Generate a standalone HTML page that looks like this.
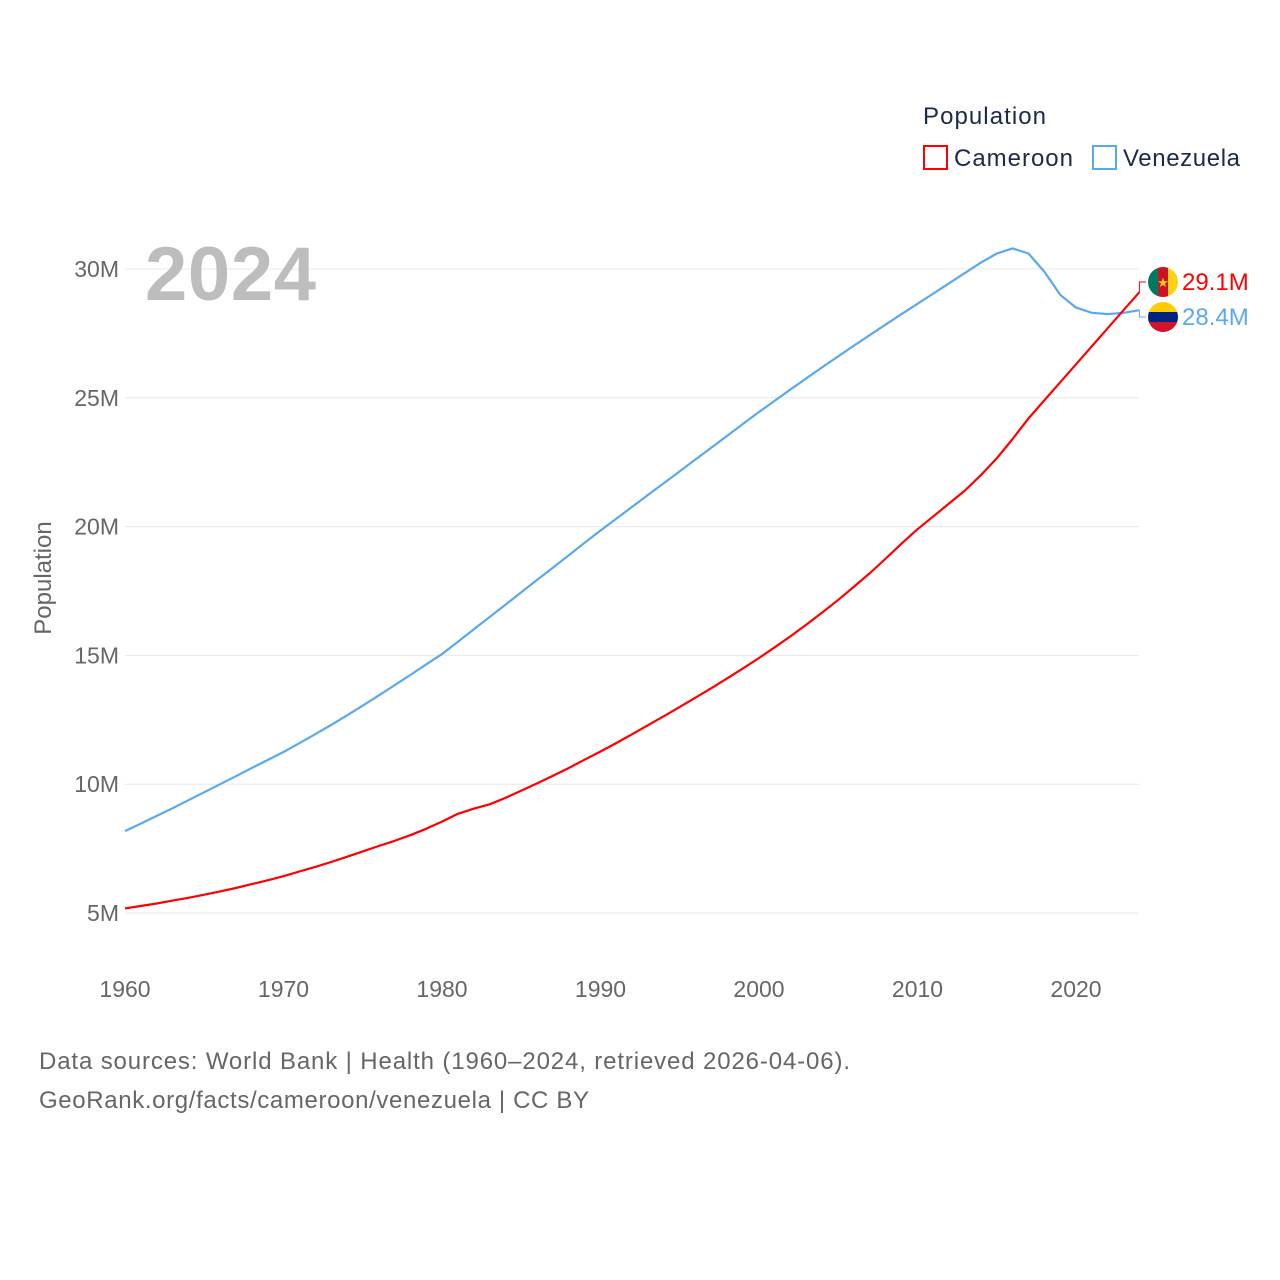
<!DOCTYPE html>
<html><head><meta charset="utf-8">
<style>
html,body{margin:0;padding:0;background:#fff;}
svg{display:block;font-family:"Liberation Sans",sans-serif;}
</style></head>
<body>
<svg id="chart" width="1280" height="1280" viewBox="0 0 1280 1280">
  <g id="grid"></g>
  <g id="yticks"></g>
  <g id="xticks"></g>
  <text x="145" y="300" font-size="76" font-weight="bold" fill="#bdbdbd" textLength="171">2024</text>
  <text x="0" y="0" transform="translate(51,578) rotate(-90)" text-anchor="middle" font-size="24" fill="#666">Population</text>
  <g id="series"></g>
  <g id="endlabels"></g>
  <g>
    <text x="923" y="124" font-size="24" fill="#1b2a4a" textLength="123">Population</text>
    <g>
      <rect x="924" y="146" width="23" height="23" fill="none" stroke="#ff0000" stroke-width="2"/>
      <text x="954" y="166" font-size="24" fill="#1b2a4a" textLength="119">Cameroon</text>
    </g>
    <g>
      <rect x="1093" y="146" width="23" height="23" fill="none" stroke="#5aa9ee" stroke-width="2"/>
      <text x="1123" y="166" font-size="24" fill="#1b2a4a" textLength="117">Venezuela</text>
    </g>
  </g>
  <text x="39" y="1069" font-size="24" fill="#666" textLength="811">Data sources: World Bank | Health (1960–2024, retrieved 2026-04-06).</text>
  <text x="39" y="1108" font-size="24" fill="#666" textLength="550">GeoRank.org/facts/cameroon/venezuela | CC BY</text>
</svg>
<script>
const years = [];
for (let y = 1960; y <= 2024; y++) years.push(y);
const cameroon = [5.18,5.27,5.37,5.48,5.59,5.71,5.84,5.97,6.12,6.27,
6.43,6.61,6.79,6.98,7.18,7.39,7.60,7.80,8.02,8.27,
8.55,8.85,9.05,9.22,9.47,9.75,10.03,10.33,10.63,10.95,
11.27,11.60,11.94,12.29,12.64,13.00,13.36,13.73,14.11,14.50,
14.90,15.32,15.75,16.20,16.67,17.16,17.67,18.20,18.76,19.34,
19.90,20.40,20.90,21.40,22.00,22.65,23.40,24.20,24.90,25.60,
26.30,27.00,27.70,28.40,29.10];
const venezuela = [8.18,8.47,8.77,9.07,9.38,9.69,10.00,10.31,10.63,10.94,
11.25,11.59,11.94,12.30,12.67,13.05,13.44,13.84,14.24,14.65,
15.05,15.53,16.01,16.49,16.97,17.45,17.93,18.41,18.89,19.37,
19.85,20.31,20.77,21.23,21.69,22.15,22.61,23.07,23.53,23.99,
24.45,24.89,25.33,25.76,26.19,26.61,27.03,27.44,27.85,28.25,
28.65,29.05,29.45,29.85,30.25,30.60,30.80,30.60,29.90,29.00,
28.50,28.30,28.25,28.30,28.40];
const yTicks = [5,10,15,20,25,30];
const yTickLabels = ["5M","10M","15M","20M","25M","30M"];
const xTicks = [1960,1970,1980,1990,2000,2010,2020];
const endLabels = ["29.1M","28.4M"];

const NS = "http://www.w3.org/2000/svg";
const X = yr => 125 + (yr - 1960) * (1076 - 125) / 60;
const Y = v => 913 - (v - 5) * (913 - 269) / 25;
function mk(tag, attrs, parent) {
  const e = document.createElementNS(NS, tag);
  for (const k in attrs) e.setAttribute(k, attrs[k]);
  parent.appendChild(e);
  return e;
}
const grid = document.getElementById('grid');
const yt = document.getElementById('yticks');
yTicks.forEach((v, i) => {
  const l = mk('line', {x1: 125, x2: 1139, y1: Y(v), y2: Y(v), stroke: '#e8e8e8', 'stroke-width': 1}, grid);
  
  
  const t = mk('text', {x: 119, y: Y(v) + 8, 'text-anchor': 'end', 'font-size': 23, fill: '#666'}, yt);
  t.textContent = yTickLabels[i];
  
  
});
const xt = document.getElementById('xticks');
xTicks.forEach(yr => {
  const t = mk('text', {x: X(yr), y: 997, 'text-anchor': 'middle', 'font-size': 23, fill: '#666'}, xt);
  t.textContent = yr;
  
  
});
const ser = document.getElementById('series');
function line(vals, color, name) {
  const d = vals.map((v, i) => (i ? 'L' : 'M') + X(years[i]).toFixed(1) + ' ' + Y(v).toFixed(1)).join(' ');
  const p = mk('path', {d: d, fill: 'none', stroke: color, 'stroke-width': 2.2, 'stroke-linejoin': 'round'}, ser);
  
  
}
line(venezuela, '#5aa9ee', 'venezuela-line');
line(cameroon, '#ff0000', 'cameroon-line');

const el = document.getElementById('endlabels');
const lastX = X(years[years.length - 1]);
const cy1 = 282, cy2 = 317;
const c1 = mk('path', {d: `M${lastX} ${Y(cameroon[cameroon.length-1])} L${lastX} ${cy1} L1146 ${cy1}`, fill: 'none', stroke: '#ff0000', 'stroke-width': 1}, el);


const c2 = mk('path', {d: `M${lastX} ${Y(venezuela[venezuela.length-1])} L${lastX} ${cy2} L1146 ${cy2}`, fill: 'none', stroke: '#5aa9ee', 'stroke-width': 1}, el);


const f1 = mk('g', {}, el);


const cp1 = mk('clipPath', {id: 'cc1'}, f1);
mk('circle', {cx: 1163, cy: cy1, r: 15}, cp1);
const g1 = mk('g', {'clip-path': 'url(#cc1)'}, f1);
mk('rect', {x: 1148, y: cy1 - 15, width: 10, height: 30, fill: '#007a5e'}, g1);
mk('rect', {x: 1158, y: cy1 - 15, width: 10, height: 30, fill: '#ce1126'}, g1);
mk('rect', {x: 1168, y: cy1 - 15, width: 10, height: 30, fill: '#fcd116'}, g1);
const st = mk('text', {x: 1163, y: cy1 + 5, 'text-anchor': 'middle', 'font-size': 13, fill: '#fcd116'}, g1);
st.textContent = '★';
const f2 = mk('g', {}, el);


const cp2 = mk('clipPath', {id: 'cc2'}, f2);
mk('circle', {cx: 1163, cy: cy2, r: 15}, cp2);
const g2 = mk('g', {'clip-path': 'url(#cc2)'}, f2);
mk('rect', {x: 1148, y: cy2 - 15, width: 30, height: 10, fill: '#ffcc00'}, g2);
mk('rect', {x: 1148, y: cy2 - 5, width: 30, height: 10, fill: '#00247d'}, g2);
mk('rect', {x: 1148, y: cy2 + 5, width: 30, height: 10, fill: '#cf142b'}, g2);
const t1 = mk('text', {x: 1182, y: cy1 + 8, 'font-size': 24, fill: '#ff0000'}, el);
t1.textContent = endLabels[0];


const t2 = mk('text', {x: 1182, y: cy2 + 8, 'font-size': 24, fill: '#5aa9ee'}, el);
t2.textContent = endLabels[1];


</script>
</body></html>
